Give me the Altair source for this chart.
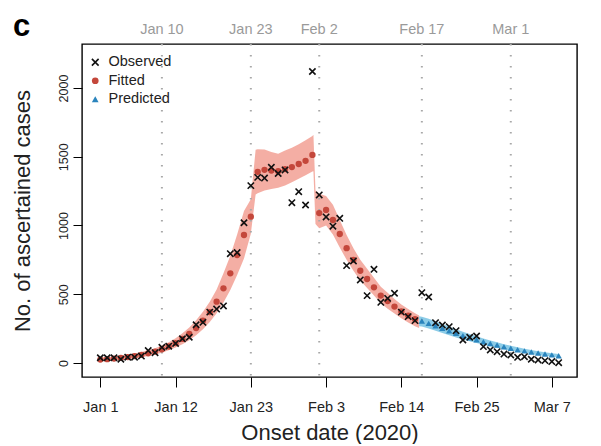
import altair as alt
import pandas as pd

# ---------------- data (day index 0 = Jan 1, 2020) ----------------
obs_day = list(range(0, 68))
obs_val = [38, 38, 38, 27, 42, 42, 50, 90, 75, 114, 122, 142, 176, 187, 278, 296,
           370, 392, 415, 795, 803, 1020, 1290, 1350, 1345, 1423, 1378, 1404, 1166, 1246,
           1149, 2120, 1222, 1062, 995, 1052, 708, 742, 604, 490, 681, 441, 470, 507,
           370, 337, 308, 511, 480, 293, 276, 264, 235, 167, 187, 196, 119, 95, 82,
           65, 58, 41, 46, 27, 22, 17, 10, 2]

fit_day = list(range(0, 47))
fit_val = [25, 28, 32, 37, 43, 50, 59, 70, 83, 100, 120, 145, 175, 211, 254, 307,
           370, 446, 543, 652, 785, 931, 1064, 1390, 1405, 1400, 1395, 1410, 1425, 1447,
           1470, 1513, 1090, 1113, 1040, 938, 835, 750, 671, 611, 550, 490, 450, 410,
           375, 345, 318]

pred_day = list(range(47, 68))
pred_val = [305, 288, 270, 252, 234, 216, 199, 184, 169, 155, 142, 130, 118, 107,
            97, 88, 80, 72, 65, 59, 53]

red_band_day = [0, 1, 2, 3, 4, 5, 6, 7, 8, 9, 10, 11, 12, 13, 14, 15, 16, 17, 18, 19,
                20, 21, 22, 22.7, 23, 24, 25, 26, 27, 28, 29, 30, 31, 31.15, 31.45,
                32, 33, 34, 35, 36, 37, 38, 39, 40, 41, 42, 43, 44, 45, 46, 46.6]
red_band_lo = [12, 15, 18, 22, 27, 33, 41, 50, 61, 75, 92, 112, 136, 166, 202, 246,
               298, 362, 440, 530, 640, 760, 940, 1225, 1235, 1255, 1265, 1275, 1290,
               1315, 1340, 1365, 1392, 1395, 1010, 980, 1000, 935, 840, 750, 670, 600,
               545, 490, 435, 395, 360, 325, 295, 268, 255]
red_band_hi = [40, 43, 48, 54, 61, 69, 79, 92, 107, 127, 150, 180, 216, 258, 310, 372,
               446, 535, 652, 780, 935, 1105, 1190, 1550, 1555, 1552, 1535, 1522, 1545,
               1565, 1590, 1620, 1650, 1660, 1255, 1230, 1215, 1150, 1040, 930, 835, 750,
               685, 620, 555, 510, 465, 425, 392, 362, 345]

blue_band_day = [46.6, 47, 48, 49, 50, 51, 52, 53, 54, 55, 56, 57, 58, 59, 60, 61, 62,
                 63, 64, 65, 66, 67]
blue_band_lo = [268, 265, 250, 234, 218, 202, 186, 171, 158, 145, 132, 121, 110, 99,
                89, 80, 72, 65, 58, 52, 47, 42]
blue_band_hi = [340, 336, 322, 303, 284, 265, 246, 228, 211, 194, 178, 164, 150, 137,
                125, 114, 104, 95, 86, 78, 71, 65]

tick_days = [0, 11, 22, 33, 44, 55, 66]
y_ticks = [0, 500, 1000, 1500, 2000]
event_days = [9, 22, 32, 47, 60]
event_labels = ["Jan 10", "Jan 23", "Feb 2", "Feb 17", "Mar 1"]
series_names = ["Observed", "Fitted", "Predicted"]
panel_label = "c"

# ---------------- tables ----------------
points = pd.concat([
    pd.DataFrame({"day": fit_day, "value": fit_val, "series": "Fitted"}),
    pd.DataFrame({"day": pred_day, "value": pred_val, "series": "Predicted"}),
    pd.DataFrame({"day": obs_day, "value": obs_val, "series": "Observed"}),
], ignore_index=True)
red_band = pd.DataFrame({"day": red_band_day, "lo": red_band_lo, "hi": red_band_hi})
blue_band = pd.DataFrame({"day": blue_band_day, "lo": blue_band_lo, "hi": blue_band_hi})
events = pd.DataFrame({"day": event_days, "label": event_labels})

FONT = "Liberation Sans"
RED_DOT = "#c4473b"
RED_BAND = "#f3aa9f"
BLUE_TRI = "#2a84bd"
BLUE_BAND = "#86c9e6"
X_PATH = "M-1,-1L1,1M-1,1L1,-1"

xscale = alt.Scale(domain=[-2.68, 69.68], nice=False, zero=False)
yscale = alt.Scale(domain=[-102, 2320], nice=False, zero=False)

x_axis = alt.Axis(
    values=tick_days,
    labelExpr="timeFormat(datetime(2020, 0, 1 + datum.value), '%b %-d')",
    tickSize=10, tickColor="black", tickWidth=1, labelPadding=13,
    labelFontSize=14.5, labelColor="#222", labelFont=FONT, domain=False, grid=False,
    title="Onset date (2020)", titleFontSize=22, titleFontWeight="normal",
    titleColor="#222", titleFont=FONT, titleY=55, titleBaseline="middle",
)
y_axis = alt.Axis(
    values=y_ticks, format="d", labelAngle=270, labelAlign="center", labelBaseline="bottom",
    tickSize=9, tickColor="black", tickWidth=1, labelPadding=3,
    labelFontSize=12.5, labelColor="#222", labelFont=FONT, domain=False, grid=False,
    title="No. of ascertained cases", titleFontSize=22, titleFontWeight="normal",
    titleColor="#222", titleFont=FONT, titleX=-60, titleY=166.5, titleAngle=270,
    titleAlign="center", titleBaseline="middle",
)

red_area = alt.Chart(red_band).mark_area(color=RED_BAND, opacity=0.95).encode(
    x=alt.X("day:Q", scale=xscale, axis=x_axis),
    y=alt.Y("lo:Q", scale=yscale, axis=y_axis),
    y2="hi:Q",
)
blue_area = alt.Chart(blue_band).mark_area(color=BLUE_BAND, opacity=0.95).encode(
    x=alt.X("day:Q", scale=xscale),
    y=alt.Y("lo:Q", scale=yscale),
    y2="hi:Q",
)
rules = alt.Chart(events).mark_rule(
    color="#a8a8a8", strokeDash=[1.6, 9.4], strokeWidth=2
).encode(x=alt.X("day:Q", scale=xscale))
top_labels = alt.Chart(events).mark_text(
    font=FONT, fontSize=14.5, color="#9a9a9a", baseline="middle"
).encode(x=alt.X("day:Q", scale=xscale), y=alt.value(-14), text="label:N")

panel = alt.Chart(pd.DataFrame({"t": [panel_label]})).mark_text(
    font=FONT, fontSize=31, fontWeight="bold", color="black", align="left",
    baseline="alphabetic"
).encode(x=alt.value(-69), y=alt.value(-8), text="t:N")

leg = alt.Legend(title=None, orient="none", legendX=6, legendY=11, padding=0,
                 labelFontSize=14.5, labelFont=FONT, labelColor="#222",
                 symbolSize=45, symbolStrokeWidth=1.6, rowPadding=3.5,
                 labelOffset=6, symbolOffset=0)
pts = alt.Chart(points).mark_point(filled=True, size=40, strokeWidth=1.6, opacity=1).encode(
    x=alt.X("day:Q", scale=xscale),
    y=alt.Y("value:Q", scale=yscale),
    shape=alt.Shape("series:N", legend=leg,
                    scale=alt.Scale(domain=series_names, range=[X_PATH, "circle", "triangle-up"])),
    fill=alt.Fill("series:N", legend=leg,
                  scale=alt.Scale(domain=series_names, range=["transparent", RED_DOT, BLUE_TRI])),
    stroke=alt.Stroke("series:N", legend=leg,
                      scale=alt.Scale(domain=series_names, range=["#111111", "transparent", "transparent"])),
)

chart = alt.layer(red_area, blue_area, rules, top_labels, panel, pts).properties(
    width=495, height=333,
    autosize=alt.AutoSizeParams(type="none"),
    padding={"left": 74, "top": 36, "right": 8, "bottom": 67},
).configure(
    font=FONT
).configure_view(
    stroke="black", strokeWidth=1.4
)

chart.save("out.html", embed_options={"renderer": "svg", "actions": False})
